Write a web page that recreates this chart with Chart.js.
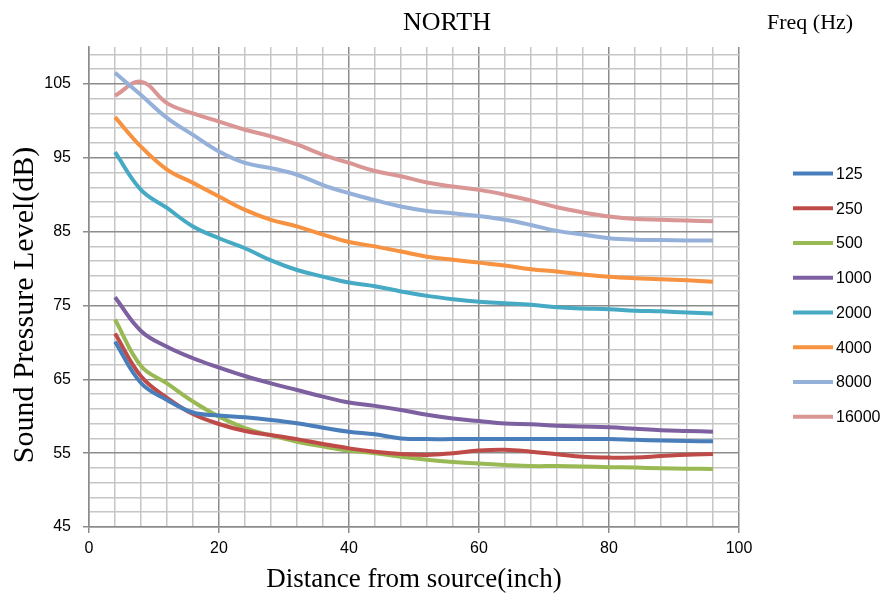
<!DOCTYPE html>
<html>
<head>
<meta charset="utf-8">
<title>NORTH</title>
<script src="https://cdn.jsdelivr.net/npm/chart.js@4.4.0/dist/chart.umd.min.js"></script>
<style>
  html, body { margin: 0; padding: 0; background: #fff; }
  #wrap { width: 887px; height: 598px; position: relative; }
</style>
</head>
<body>
<div id="wrap"><canvas id="spl"></canvas></div>
<script>
// distance from source (inch)
const distances = [4, 8, 12, 16, 20, 24, 28, 32, 36, 40, 44, 48, 52, 56, 60, 64, 68, 72, 76, 80, 84, 88, 92, 96];

const freqs = ['125', '250', '500', '1000', '2000', '4000', '8000', '16000'];

// sound pressure level (dB) per frequency
const spl125   = [70.1, 64.5, 62.2, 60.5, 60.1, 59.85, 59.5, 59.05, 58.45, 57.9, 57.55, 57.0, 56.9, 56.9, 56.9, 56.9, 56.9, 56.9, 56.9, 56.9, 56.8, 56.7, 56.65, 56.6];
const spl250   = [71.2, 65.4, 62.5, 60.3, 58.95, 58.0, 57.45, 56.9, 56.25, 55.65, 55.2, 54.9, 54.75, 55.0, 55.35, 55.45, 55.2, 54.85, 54.5, 54.4, 54.4, 54.6, 54.8, 54.9];
const spl500   = [73.1, 66.8, 64.45, 62.0, 59.95, 58.4, 57.4, 56.55, 55.9, 55.35, 55.0, 54.5, 54.1, 53.8, 53.6, 53.4, 53.25, 53.25, 53.2, 53.1, 53.05, 52.95, 52.9, 52.85];
const spl1000  = [76.1, 71.55, 69.4, 67.85, 66.6, 65.45, 64.45, 63.55, 62.65, 61.85, 61.4, 60.85, 60.2, 59.7, 59.35, 59.0, 58.9, 58.7, 58.6, 58.5, 58.3, 58.1, 58.0, 57.9];
const spl2000  = [95.75, 90.65, 88.2, 85.7, 84.1, 82.75, 81.1, 79.8, 78.9, 78.1, 77.6, 76.9, 76.3, 75.85, 75.5, 75.3, 75.1, 74.75, 74.6, 74.5, 74.3, 74.2, 74.05, 73.9];
const spl4000  = [100.5, 96.5, 93.4, 91.6, 89.75, 87.95, 86.6, 85.7, 84.6, 83.6, 83.0, 82.3, 81.6, 81.2, 80.8, 80.4, 79.9, 79.6, 79.2, 78.9, 78.7, 78.55, 78.4, 78.2];
const spl8000  = [106.5, 103.5, 100.4, 98.1, 95.85, 94.3, 93.6, 92.7, 91.3, 90.2, 89.25, 88.4, 87.8, 87.5, 87.1, 86.6, 85.9, 85.1, 84.6, 84.1, 83.9, 83.85, 83.8, 83.8];
const spl16000 = [103.4, 105.3, 102.4, 101.0, 99.9, 98.8, 97.9, 96.8, 95.4, 94.3, 93.2, 92.5, 91.65, 91.1, 90.65, 90.0, 89.2, 88.3, 87.6, 87.05, 86.7, 86.6, 86.5, 86.4];

const series = [spl125, spl250, spl500, spl1000, spl2000, spl4000, spl8000, spl16000];
const colors = ['#4A7EBB', '#BE4B48', '#98B954', '#7D60A0', '#46AAC5', '#F69240', '#95B1DA', '#D99694'];

// grid lines and labelled ticks
const xGrid = [0, 4, 8, 12, 16, 20, 24, 28, 32, 36, 40, 44, 48, 52, 56, 60, 64, 68, 72, 76, 80, 84, 88, 92, 96, 100];
const xMajor = [0, 20, 40, 60, 80, 100];
const yGrid = [45, 47, 49, 51, 53, 55, 57, 59, 61, 63, 65, 67, 69, 71, 73, 75, 77, 79, 81, 83, 85, 87, 89, 91, 93, 95, 97, 99, 101, 103, 105, 107, 109];
const yMajor = [45, 55, 65, 75, 85, 95, 105];

const MINOR = '#c6c6c6';
const MAJOR = '#8c8c8c';

const datasets = series.map((vals, i) => ({
    label: freqs[i],
    data: distances.map((d, j) => ({ x: d, y: vals[j] })),
    borderColor: colors[i],
    backgroundColor: colors[i],
    borderWidth: 4,
    pointRadius: 0,
    tension: 0.4,
    fill: false
}));

// titles and the legend on the right
const decorations = {
    id: 'decorations',
    afterDraw(chart) {
        const ctx = chart.ctx;
        ctx.save();
        ctx.fillStyle = '#000';
        ctx.textBaseline = 'middle';
        ctx.textAlign = 'center';
        ctx.font = '26px "Liberation Serif"';
        ctx.fillText('NORTH', 447, 23);
        ctx.textAlign = 'left';
        ctx.font = '22px "Liberation Serif"';
        ctx.fillText('Freq (Hz)', 767, 23);

        // y axis title
        ctx.save();
        ctx.translate(25, 305);
        ctx.rotate(-Math.PI / 2);
        ctx.textAlign = 'center';
        ctx.font = '30px "Liberation Serif"';
        ctx.fillText('Sound Pressure Level(dB)', 0, 0);
        ctx.restore();

        ctx.font = '16px "Liberation Sans"';
        chart.data.datasets.forEach((ds, i) => {
            const y = 173.5 + i * 34.75;
            ctx.strokeStyle = ds.borderColor;
            ctx.lineWidth = 4;
            ctx.beginPath();
            ctx.moveTo(793, y);
            ctx.lineTo(833, y);
            ctx.stroke();
            ctx.fillStyle = '#000';
            ctx.fillText(ds.label, 836, y + 1);
        });
        ctx.restore();
    }
};

new Chart(document.getElementById('spl'), {
    type: 'line',
    data: { datasets: datasets },
    plugins: [decorations],
    options: {
        responsive: true,
        maintainAspectRatio: false,
        animation: false,
        layout: { padding: { top: 47, right: 148, bottom: 0, left: 0 } },
        plugins: {
            legend: { display: false },
            title: { display: false },
            tooltip: { enabled: false }
        },
        scales: {
            x: {
                type: 'linear',
                min: 0,
                max: 100,
                afterBuildTicks: s => { s.ticks = xGrid.map(v => ({ value: v })); },
                afterFit: s => { s.height = 71; },
                ticks: {
                    autoSkip: false,
                    maxRotation: 0,
                    padding: 6,
                    color: '#000',
                    font: { family: 'Liberation Sans', size: 16 },
                    callback: v => xMajor.includes(v) ? String(v) : ''
                },
                grid: {
                    lineWidth: 1.5,
                    color: c => xMajor.includes(c.tick.value) ? MAJOR : MINOR,
                    tickLength: 6,
                    tickColor: c => xMajor.includes(c.tick.value) ? MAJOR : 'transparent'
                },
                border: { color: MAJOR, width: 1.5 },
                title: {
                    display: true,
                    text: 'Distance from source(inch)',
                    color: '#000',
                    font: { family: 'Liberation Serif', size: 27 },
                    padding: { top: 0, bottom: 2 }
                }
            },
            y: {
                type: 'linear',
                min: 45,
                max: 110,
                afterBuildTicks: s => { s.ticks = yGrid.map(v => ({ value: v })); },
                afterFit: s => { s.width = 89; },
                ticks: {
                    autoSkip: false,
                    padding: 12,
                    color: '#000',
                    font: { family: 'Liberation Sans', size: 16 },
                    callback: v => yMajor.includes(v) ? String(v) : ''
                },
                grid: {
                    lineWidth: 1.5,
                    color: c => yMajor.includes(c.tick.value) ? MAJOR : MINOR,
                    tickLength: 6,
                    tickColor: c => yMajor.includes(c.tick.value) ? MAJOR : 'transparent'
                },
                border: { color: MAJOR, width: 1.5 }
            }
        }
    }
});
</script>
</body>
</html>
